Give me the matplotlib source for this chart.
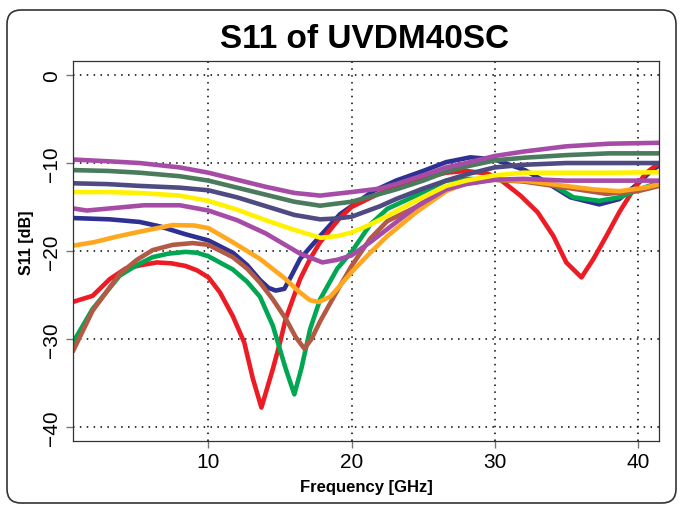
import matplotlib
matplotlib.use("Agg")
import matplotlib.pyplot as plt
from matplotlib.patches import FancyBboxPatch

plt.rcParams['font.family'] = ['Liberation Sans', 'DejaVu Sans']

# ---------------- data (GHz, dB) ----------------
navy_f = [0.5, 3.1, 5.2, 6.6, 8.4, 10, 11.7, 12.7, 13.6, 14.2, 14.7, 15.3, 15.8, 16.4, 17.8, 19.2, 20, 21.5, 23.1,
          25, 26.6, 28.3, 30, 32.1, 33.4, 35.3, 37.3, 38.7, 40.1, 41.05, 41.5]
navy_s = [-16.25, -16.4, -16.7, -17.2, -18.1, -18.8, -20.2, -21.6, -23.3, -24.2, -24.5, -24.3, -22.8, -20.9, -18.3,
          -15.8, -14.9, -13.2, -12.0, -10.9, -9.9, -9.35, -9.6, -10.8, -12.0, -13.9, -14.7, -14.1, -12.2, -10.7, -10.3]

red_f = [0.5, 1.9, 3.1, 4.2, 5.3, 6.4, 7.4, 8.4, 9.2, 10, 10.8, 11.7, 12.5, 13.1, 13.7, 14.5, 15.0, 15.4, 16.4,
         17.1, 17.8, 19.2, 20, 21.5, 23.1, 25, 26.6, 28, 29.5, 30.4, 31.8, 33.0, 34.1, 35.0, 36.06, 36.9, 37.8, 38.7,
         39.7, 40.6, 41.5]
red_s = [-25.8, -25.1, -23.2, -22.0, -21.6, -21.3, -21.4, -21.7, -22.2, -23.0, -24.7, -27.4, -30.4, -34.5, -37.8,
         -33.4, -30.4, -27.7, -23.2, -20.9, -19.0, -16.2, -15.0, -13.8, -12.6, -11.7, -11.1, -10.9, -11.2, -11.9,
         -13.7, -15.6, -18.3, -21.3, -23.0, -20.9, -18.3, -15.6, -13.0, -11.1, -10.0]

green_f = [0.5, 1.9, 3.8, 5.0, 6.1, 7.2, 8.4, 9.2, 10, 11.7, 12.7, 13.6, 14.5, 15.4, 16.0, 16.5, 17.1, 17.8, 19.0,
           20, 21.3, 22.5, 24.5, 26.6, 28, 30, 32, 34.1, 35.5, 37.3, 38.7, 40.6, 41.5]
green_s = [-30.5, -26.6, -22.8, -21.6, -20.7, -20.3, -20.1, -20.2, -20.6, -22.1, -23.5, -25.2, -28.5, -33.4, -36.3,
           -33.3, -28.9, -25.5, -22.0, -20.1, -17.0, -15.2, -13.7, -12.0, -11.8, -11.9, -12.0, -12.5, -13.9, -14.3,
           -13.9, -12.7, -12.2]

brown_f = [0.5, 1.9, 3.8, 5.0, 6.1, 7.5, 8.9, 10, 11.7, 12.7, 13.6, 14.5, 15.4, 16.1, 16.7, 17.2, 17.8, 19.0, 20,
           21.3, 22.5, 24.5, 26.6, 28, 30, 32, 35, 37.8, 40, 41.5]
brown_s = [-31.5, -26.8, -22.6, -21.0, -19.9, -19.3, -19.1, -19.3, -20.7, -22.0, -23.6, -25.5, -27.7, -29.8, -31.1,
           -30.0, -28.0, -24.5, -21.7, -18.6, -16.6, -15.0, -12.8, -12.0, -11.9, -12.1, -12.8, -13.5, -13.2, -12.6]

orange_f = [0.5, 2, 3.5, 5.2, 7.5, 9, 10, 11.7, 13.6, 15.4, 16.3, 17.1, 17.7, 18.5, 19.0, 20, 21.3, 22.5, 24.5,
            26.6, 28, 30, 32, 34, 36.9, 38.7, 40.5, 41.5]
orange_s = [-19.4, -19.0, -18.4, -17.8, -17.05, -17.1, -17.4, -19.0, -20.9, -23.2, -24.6, -25.6, -25.8, -25.2,
            -24.3, -22.4, -20.2, -18.3, -15.6, -13.2, -12.3, -11.9, -12.0, -12.4, -13.0, -13.2, -12.8, -12.4]

purple2_f = [0.5, 1.5, 3.5, 5.5, 8, 10, 12, 14, 16.4, 17.96, 19, 20, 21.3, 22.5, 24.5, 26.6, 28, 30, 32, 35, 38, 41.5]
purple2_s = [-15.15, -15.4, -15.1, -14.8, -14.8, -15.4, -16.5, -18.0, -20.3, -21.3, -21.0, -20.5, -19.0, -17.5, -15.0,
             -13.0, -12.4, -11.9, -11.8, -12.0, -12.0, -12.0]

yellow_f = [0.5, 3, 5.2, 8, 10, 12, 14, 16, 17.84, 19, 20, 21.3, 22.5, 24.5, 26.6, 28, 30, 32, 35, 38, 41.5]
yellow_s = [-13.3, -13.3, -13.4, -13.7, -14.3, -15.3, -16.5, -17.6, -18.5, -18.3, -17.9, -17.0, -16.0, -14.3, -12.6,
            -12.0, -11.4, -11.1, -11.1, -11.1, -11.05]

slate_f = [0.5, 3, 5.2, 8, 10, 12, 14, 16, 17.8, 19, 20, 22, 23.1, 25, 26.6, 28, 30, 32, 35, 38, 41.5]
slate_s = [-12.3, -12.4, -12.6, -12.8, -13.1, -13.9, -14.9, -15.9, -16.4, -16.3, -16.1, -14.9, -14.1, -12.9, -12.0,
           -11.3, -10.5, -10.2, -10.0, -10.0, -10.0]

greengrey_f = [0.5, 3, 5.2, 8, 10, 12, 14, 16, 17.8, 20, 22, 23.1, 25, 26.6, 28, 30, 32, 35, 38, 41.5]
greengrey_s = [-10.8, -10.9, -11.1, -11.5, -12.0, -12.8, -13.6, -14.4, -14.85, -14.4, -13.5, -13.0, -12.0, -11.0,
               -10.4, -9.7, -9.4, -9.1, -8.9, -8.9]

purple1_f = [0.5, 3, 5.2, 8, 10, 12, 14, 16, 17.8, 20, 22, 23.1, 25, 26.6, 28, 30, 32, 35, 38, 41.5]
purple1_s = [-9.6, -9.8, -10.0, -10.5, -11.1, -11.9, -12.7, -13.4, -13.7, -13.3, -12.9, -12.4, -11.4, -10.5, -10.0,
             -9.2, -8.7, -8.1, -7.8, -7.7]

x_ticks = [10, 20, 30, 40]
y_ticks = [0, -10, -20, -30, -40]

series = [
    (navy_f, navy_s, '#2e3192'),
    (red_f, red_s, '#ed1c24'),
    (green_f, green_s, '#00a651'),
    (brown_f, brown_s, '#b35a44'),
    (orange_f, orange_s, '#ffa81f'),
    (purple2_f, purple2_s, '#a64ca6'),
    (yellow_f, yellow_s, '#fff200'),
    (slate_f, slate_s, '#4f4b82'),
    (greengrey_f, greengrey_s, '#4a7b5c'),
    (purple1_f, purple1_s, '#a64ca6'),
]

# ---------------- figure ----------------
fig = plt.figure(figsize=(6.8, 5.06), dpi=100)
ax = fig.add_axes([72.5 / 680, 1 - 442 / 506, (659.3 - 72.5) / 680, (442 - 62) / 506])

for f, s, c in series:
    ax.plot(f, s, color=c, lw=3.3, solid_capstyle='butt', solid_joinstyle='round')

ax.set_xlim(0.5, 41.5)
ax.set_ylim(-41.6, 1.6)
ax.set_xticks(x_ticks)
ax.set_yticks(y_ticks)
ax.grid(True, color='black', linestyle=(0, (1, 3.5)), linewidth=1.1)
ax.set_axisbelow(True)
ax.tick_params(axis='both', direction='out', length=5, width=1, color='#777777', labelsize=15, pad=3)
for lab in ax.get_yticklabels():
    lab.set_rotation(90)
    lab.set_va('center')
for sp in ax.spines.values():
    sp.set_linewidth(0.9)
    sp.set_color('#333333')

fig.text(365 / 680, 1 - 40 / 506, 'S11 of UVDM40SC', ha='center', va='center',
         fontsize=24, fontweight='bold')
fig.text(366 / 680, 1 - 488 / 506, 'Frequency [GHz]', ha='center', va='center',
         fontsize=12, fontweight='bold')
fig.text(27 / 680, 1 - 243 / 506, 'S11 [dB]', ha='center', va='center', rotation=90,
         fontsize=11.5, fontweight='bold')

frame = FancyBboxPatch((7, 2), 669, 493, boxstyle='round,pad=0,rounding_size=14',
                       transform=None, fill=False, edgecolor='#333333', linewidth=1.2)
fig.patches.append(frame)

fig.savefig('out.png', dpi=100)
